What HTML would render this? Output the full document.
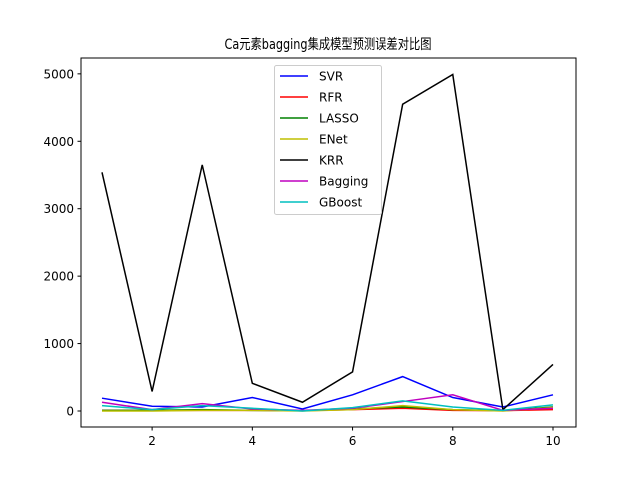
<!DOCTYPE html>
<html><head><meta charset="utf-8"><style>
body{margin:0;background:#fff}
svg text{font-family:"DejaVu Sans","Noto Sans CJK SC",sans-serif;}
</style></head><body>
<svg id="c" width="640" height="480" xmlns="http://www.w3.org/2000/svg">
<rect width="640" height="480" fill="#fff"/>
<text x="328" y="49" text-anchor="middle" font-size="14" textLength="207" lengthAdjust="spacingAndGlyphs">Ca元素bagging集成模型预测误差对比图</text>
<g id="plot"></g>
<rect x="81" y="58" width="495" height="369" fill="none" stroke="#000" stroke-width="1"/>
</svg>
<script>
const xs=[1,2,3,4,5,6,7,8,9,10];
const xTicks=[2,4,6,8,10];
const yTicks=[0,1000,2000,3000,4000,5000];
const names=["SVR","RFR","LASSO","ENet","KRR","Bagging","GBoost"];
const colors=["#0000ff","#ff0000","#008000","#bfbf00","#000000","#bf00bf","#00bfbf"];
const svr=[190,70,60,200,30,240,510,200,60,240];
const rfr=[10,10,10,10,5,20,40,10,5,20];
const lasso=[10,10,20,10,5,30,60,20,5,60];
const enet=[0,0,10,10,0,20,80,20,0,50];
const krr=[3540,290,3650,410,130,580,4550,4990,20,690];
const bagging=[130,20,110,30,10,40,140,240,10,40];
const gboost=[80,20,80,40,0,50,150,60,10,90];
const series=[svr,rfr,lasso,enet,krr,bagging,gboost];
const X=v=>102+(v-1)*50.11;
const Y=v=>411-v*0.06743;
const ns="http://www.w3.org/2000/svg";
const g=document.getElementById('plot');
function mk(t,a){const e=document.createElementNS(ns,t);for(const k in a)e.setAttribute(k,a[k]);g.appendChild(e);return e;}
xTicks.forEach(t=>{
 const l=mk('line',{x1:X(t),x2:X(t),y1:427,y2:430.5,stroke:'#000'});
 
 
 const s=mk('text',{x:X(t),y:445,'text-anchor':'middle','font-size':'12'});s.textContent=t;
 
 
});
yTicks.forEach(t=>{
 const l=mk('line',{x1:77.5,x2:81,y1:Y(t),y2:Y(t),stroke:'#000'});
 
 
 const s=mk('text',{x:74,y:Y(t)+4.5,'text-anchor':'end','font-size':'12'});s.textContent=t;
 
 
});
series.forEach((d,i)=>{
 const p=mk('polyline',{points:d.map((v,j)=>X(xs[j])+','+Y(v)).join(' '),fill:'none',stroke:colors[i],'stroke-width':'1.5'});
 
 
});
const lg=mk('rect',{x:274.5,y:65.5,width:107,height:149,fill:'#fff','fill-opacity':'0.8',stroke:'#ccc',rx:2});


names.forEach((n,i)=>{
 const y=76+i*21;
 const l=mk('line',{x1:280,x2:308,y1:y,y2:y,stroke:colors[i],'stroke-width':'1.5'});
 
 
 const t=mk('text',{x:319,y:y+4.5,'font-size':'12'});t.textContent=n;
 
 
});
</script>
</body></html>
